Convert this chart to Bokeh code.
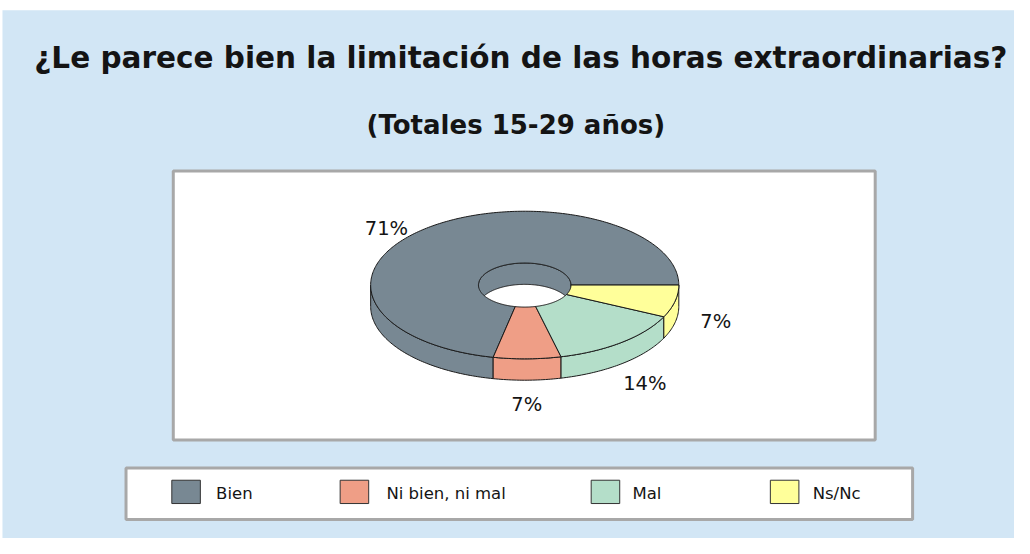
import numpy as np
from bokeh.plotting import figure
from bokeh.models import Range1d
from bokeh.embed import file_html
from bokeh.resources import INLINE
from bokeh.core.properties import value

# ---------------- data ----------------
title = "¿Le parece bien la limitación de las horas extraordinarias?"
subtitle = "(Totales 15-29 años)"
categories = ["Bien", "Ni bien, ni mal", "Mal", "Ns/Nc"]
values = [71, 7, 14, 7]
colors = ["#788893", "#EF9E86", "#B4DEC9", "#FFFF9A"]

# ---------------- layout ----------------
W, H = 1014, 538
RW, RH = 1030, 554          # reference canvas coordinates
BLUE = "#D2E6F5"
GREY_BORDER = "#A8A8A8"
OUTLINE = "#1a1a1a"
FONT = value("DejaVu Sans")
SHIFT = 0.37 * RH / H        # baseline correction (fraction of font size, in data units)

cx, cy, a, b, depth = 532.5, 293.0, 156.5, 76.0, 22.0
ha, hb = 47.0, 22.7
# label anchors (x center, baseline) per category
label_pos = [(392, 242), (534.5, 423), (654.5, 402), (726.5, 338)]
legend_swatch_x = [174, 345, 600, 782]
legend_text_x = [219, 392, 642, 825]

p = figure(width=W, height=H, x_range=Range1d(0, RW), y_range=Range1d(RH, 0),
           output_backend="svg", toolbar_location=None, min_border=0,
           x_axis_location=None, y_axis_location=None)
p.grid.visible = False
p.outline_line_color = None
p.background_fill_color = "white"
p.border_fill_color = "white"

# blue page background
p.quad(left=[2], right=[1040], top=[10], bottom=[560], fill_color=BLUE, line_color=None)

# plot area box
p.quad(left=[175.5], right=[888.5], top=[175.5], bottom=[452.5], fill_color="white",
       line_color=GREY_BORDER, line_width=3)

# legend box
p.quad(left=[127.5], right=[926.5], top=[481.5], bottom=[534.5], fill_color="white",
       line_color=GREY_BORDER, line_width=3)

# titles
ts, ss = 29.5, 26.0
p.text(x=[528.5], y=[70 - SHIFT * ts], text=[title], text_align="center",
       text_baseline="alphabetic", text_font=FONT, text_font_style="bold",
       text_font_size=f"{ts}px", text_color="#141414")
p.text(x=[523.5], y=[138 - SHIFT * ss], text=[subtitle], text_align="center",
       text_baseline="alphabetic", text_font=FONT, text_font_style="bold",
       text_font_size=f"{ss}px", text_color="#141414")

# ---------------- 3D donut ----------------
total = float(sum(values))
bounds = np.concatenate([[0.0], np.cumsum(values) / total * 2 * np.pi])


def arc(rx, ry, t0, t1, dy=0.0, n=None):
    if n is None:
        n = max(4, int(abs(t1 - t0) / (np.pi / 180)) + 2)
    t = np.linspace(t0, t1, n)
    return cx + rx * np.cos(t), cy - ry * np.sin(t) + dy


inner_xs, inner_ys, inner_c = [], [], []
outer_xs, outer_ys, outer_c = [], [], []
top_xs, top_ys, top_c = [], [], []
for i in range(len(values)):
    s, e = bounds[i], bounds[i + 1]
    # inner (hole) back wall: angles in [0, pi]
    s2, e2 = max(s, 0.0), min(e, np.pi)
    if e2 > s2:
        x1, y1 = arc(ha, hb, s2, e2)
        x2, y2 = arc(ha, hb, e2, s2, dy=depth)
        inner_xs.append(list(x1) + list(x2))
        inner_ys.append(list(y1) + list(y2))
        inner_c.append(colors[i])
    # outer front wall: angles in [pi, 2pi]
    s3, e3 = max(s, np.pi), min(e, 2 * np.pi)
    if e3 > s3:
        x1, y1 = arc(a, b, s3, e3)
        x2, y2 = arc(a, b, e3, s3, dy=depth)
        outer_xs.append(list(x1) + list(x2))
        outer_ys.append(list(y1) + list(y2))
        outer_c.append(colors[i])
    # top annular sector
    x1, y1 = arc(a, b, s, e)
    x2, y2 = arc(ha, hb, e, s)
    top_xs.append(list(x1) + list(x2))
    top_ys.append(list(y1) + list(y2))
    top_c.append(colors[i])

p.patches(xs=inner_xs, ys=inner_ys, fill_color=inner_c, line_color=OUTLINE, line_width=1)
p.patches(xs=outer_xs, ys=outer_ys, fill_color=outer_c, line_color=OUTLINE, line_width=1)
p.patches(xs=top_xs, ys=top_ys, fill_color=top_c, line_color=OUTLINE, line_width=1)

# percentage labels
ls = 19.5
pct = [f"{v}%" for v in values]
p.text(x=[q[0] for q in label_pos], y=[q[1] - SHIFT * ls for q in label_pos], text=pct,
       text_align="center", text_baseline="alphabetic", text_font=FONT,
       text_font_size=f"{ls}px", text_color="#141414")

# legend
gs = 16.5
p.quad(left=legend_swatch_x, right=[v + 29 for v in legend_swatch_x],
       top=[494] * 4, bottom=[518] * 4, fill_color=colors, line_color="#333333", line_width=1)
p.text(x=legend_text_x, y=[514 - SHIFT * gs] * 4, text=categories, text_align="left",
       text_baseline="alphabetic", text_font=FONT, text_font_size=f"{gs}px",
       text_color="#141414")

open("out.html", "w").write(file_html(p, INLINE))
